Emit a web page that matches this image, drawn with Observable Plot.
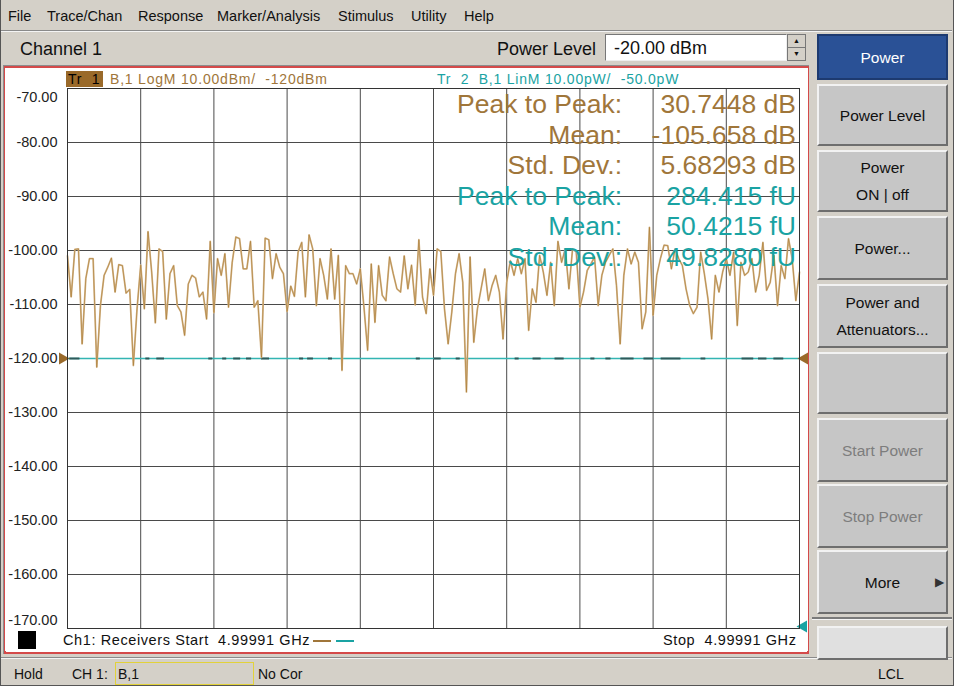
<!DOCTYPE html>
<html>
<head>
<meta charset="utf-8">
<script src="https://cdn.jsdelivr.net/npm/d3@7"></script>
<script src="https://cdn.jsdelivr.net/npm/@observablehq/plot@0.6"></script>
<style>
  html, body { margin: 0; padding: 0; }
  body { width: 954px; height: 686px; position: relative; overflow: hidden; background: #d4d0c8; font-family: "Liberation Sans", Arial, sans-serif; color: #111; }
  .abs { position: absolute; white-space: nowrap; }
  .menu { top: 8px; font-size: 14.5px; }
  .btn { position: absolute; left: 817px; width: 127px; background: #c6c6c6; border-top: 2px solid #f2f2f2; border-left: 2px solid #f2f2f2; border-bottom: 2px solid #6e6e6e; border-right: 2px solid #6e6e6e; font-size: 15.5px; text-align: center; display: flex; flex-direction: column; justify-content: center; line-height: 27px; }
  .dis { color: #7d7d7d; }
  .stat { position: absolute; font-size: 26.5px; line-height: 30.6px; text-align: right; white-space: nowrap; }
  .hdr { font-size: 14px; letter-spacing: 0.8px; }
  .ftr { font-size: 14.5px; letter-spacing: 0.6px; }
</style>
</head>
<body>
<!-- window frame -->
<div class="abs" style="left:0;top:0;width:952px;height:685px;border-left:1px solid #555;border-right:1px solid #555;border-bottom:1px solid #555;"></div>
<!-- menu bar -->
<div class="abs menu" style="left:8px">File</div>
<div class="abs menu" style="left:47px">Trace/Chan</div>
<div class="abs menu" style="left:138px">Response</div>
<div class="abs menu" style="left:217px">Marker/Analysis</div>
<div class="abs menu" style="left:338px">Stimulus</div>
<div class="abs menu" style="left:411px">Utility</div>
<div class="abs menu" style="left:464px">Help</div>
<div class="abs" style="left:1px;top:30px;width:951px;height:1px;background:#8a8a8a"></div>
<div class="abs" style="left:1px;top:31px;width:951px;height:1px;background:#f4f4f4"></div>

<!-- channel row -->
<div class="abs" style="left:20px;top:39px;font-size:18px">Channel 1</div>
<div class="abs" style="left:497px;top:39px;font-size:18px">Power Level</div>
<div class="abs" style="left:605px;top:34px;width:180px;height:25px;background:#fff;border-top:1px solid #777;border-left:1px solid #777;border-bottom:1px solid #eee;border-right:1px solid #eee;"></div>
<div class="abs" style="left:614px;top:38px;font-size:18px">-20.00 dBm</div>
<div class="abs" style="left:787px;top:34px;width:17px;height:12px;background:#d4d0c8;border:1px solid #777;font-size:7px;text-align:center;line-height:12px">&#9650;</div>
<div class="abs" style="left:787px;top:47px;width:17px;height:12px;background:#d4d0c8;border:1px solid #777;font-size:7px;text-align:center;line-height:12px">&#9660;</div>

<!-- chart window (red border) -->
<div class="abs" style="left:3px;top:65px;width:804px;height:587px;border:1px solid #8c8c8c;"></div>
<div class="abs" style="left:4px;top:66px;width:801px;height:584px;border:2px solid #d44a4a;background:#fff"></div>
<div id="plot" class="abs" style="left:5px;top:68px"></div>

<!-- trace headers -->
<div class="abs" style="left:66px;top:71px;width:37px;height:16px;background:#9a6a2a"></div>
<div class="abs hdr" style="left:68px;top:71px;color:#000">Tr&nbsp;&nbsp;1</div>
<div class="abs hdr" style="left:110px;top:71px;color:#a0763a">B,1 LogM 10.00dBm/&nbsp;&nbsp;-120dBm</div>
<div class="abs hdr" style="left:437px;top:71px;color:#1aa3a3">Tr&nbsp;&nbsp;2&nbsp;&nbsp;B,1 LinM 10.00pW/&nbsp;&nbsp;-50.0pW</div>

<!-- statistics -->
<div id="statLabels" class="stat" style="right:332px;top:89px"></div>
<div id="statValues" class="stat" style="right:158px;top:89px"></div>

<!-- footer inside chart window -->
<div class="abs" style="left:18px;top:631px;width:18px;height:18px;background:#000"></div>
<div class="abs ftr" style="left:63px;top:632px">Ch1: Receivers Start&nbsp;&nbsp;4.99991 GHz</div>
<div class="abs" style="left:313px;top:640px;width:18px;height:2px;background:#a0763a"></div>
<div class="abs" style="left:336px;top:640px;width:18px;height:2px;background:#1aa3a3"></div>
<div class="abs ftr" style="left:663px;top:632px">Stop&nbsp;&nbsp;4.99991 GHz</div>

<!-- status bar -->
<div class="abs" style="left:1px;top:657px;width:951px;height:1px;background:#8a8a8a"></div>
<div class="abs" style="left:1px;top:658px;width:951px;height:1px;background:#f4f4f4"></div>
<div class="abs" style="left:14px;top:666px;font-size:14px">Hold</div>
<div class="abs" style="left:72px;top:666px;font-size:14px">CH 1:</div>
<div class="abs" style="left:115px;top:662px;width:137px;height:21px;border:1px solid #e2d23a"></div>
<div class="abs" style="left:118px;top:666px;font-size:14px">B,1</div>
<div class="abs" style="left:258px;top:666px;font-size:14px">No Cor</div>
<div class="abs" style="left:878px;top:666px;font-size:14px">LCL</div>

<!-- softkeys -->
<div class="btn" style="top:34px;height:42px;background:#2a5196;color:#fff;border-color:#1d3a70">Power</div>
<div class="btn" style="top:84px;height:58px">Power Level</div>
<div class="btn" style="top:150px;height:58px"><span>Power</span><span>ON | off</span></div>
<div class="btn" style="top:216px;height:60px">Power...</div>
<div class="btn" style="top:284px;height:60px"><span>Power and</span><span>Attenuators...</span></div>
<div class="btn" style="top:352px;height:58px"></div>
<div class="btn dis" style="top:418px;height:60px">Start Power</div>
<div class="btn dis" style="top:484px;height:60px">Stop Power</div>
<div class="btn" style="top:550px;height:60px">More<span style="position:absolute;right:2px;top:17px;font-size:12px;color:#333">&#9654;</span></div>
<div class="abs" style="left:812px;top:617px;width:140px;height:2px;background:#7a7a7a"></div>
<div class="abs" style="left:812px;top:619px;width:140px;height:1px;background:#f4f4f4"></div>
<div class="btn" style="top:626px;height:30px;background:#e0e0e0"></div>

<script>
// ---- Data ----
// Trace 1: B,1 LogM (dBm), 201-point CW sweep at 4.99991 GHz
const trace1 = [
  -101.0, -108.6, -99.8, -99.7, -117.3, -105.2, -101.5, -101.5, -121.6, -110.2,
  -104.6, -103.1, -101.4, -107.7, -102.6, -102.8, -107.9, -107.2, -121.3, -110.8,
  -102.7, -110.8, -96.5, -104.0, -113.4, -99.7, -100.2, -112.7, -104.3, -102.8,
  -110.2, -111.4, -115.7, -106.2, -104.6, -105.1, -108.6, -107.7, -112.7, -98.3,
  -111.5, -101.5, -104.6, -100.6, -110.5, -102.2, -97.5, -97.8, -103.4, -103.4,
  -98.3, -110.5, -109.3, -119.8, -97.7, -98.0, -105.2, -100.6, -103.1, -104.3,
  -111.3, -106.6, -108.5, -100.3, -98.5, -108.6, -97.1, -99.7, -110.2, -101.5,
  -104.6, -109.0, -99.7, -109.0, -100.9, -122.2, -102.8, -104.3, -104.3, -106.2,
  -103.4, -110.5, -118.5, -102.5, -113.3, -102.8, -108.3, -109.3, -101.2, -104.3,
  -107.1, -107.7, -101.0, -107.1, -102.7, -110.1, -98.0, -108.6, -111.7, -103.4,
  -108.3, -99.7, -100.2, -110.8, -117.3, -111.4, -104.3, -100.6, -105.9, -126.2,
  -101.2, -117.0, -110.8, -107.1, -103.4, -109.3, -106.5, -104.6, -107.7, -116.4,
  -105.9, -101.9, -104.6, -101.5, -104.3, -101.5, -114.8, -107.1, -109.6, -100.9,
  -104.0, -108.3, -102.2, -110.2, -98.3, -102.2, -99.7, -107.1, -99.7, -100.3,
  -110.5, -107.7, -103.7, -102.5, -101.2, -110.2, -104.6, -102.2, -100.9, -99.7,
  -106.5, -117.3, -104.6, -99.7, -102.5, -100.3, -102.2, -114.5, -111.4, -95.7,
  -112.0, -104.6, -101.5, -99.0, -99.1, -103.4, -99.7, -101.5, -102.8, -107.1,
  -110.2, -111.7, -110.5, -100.3, -104.3, -109.0, -116.4, -104.6, -107.7, -104.0,
  -101.5, -104.6, -100.3, -113.9, -102.2, -104.6, -104.0, -101.5, -107.7, -104.6,
  -98.5, -107.4, -105.9, -100.9, -110.2, -102.8, -105.2, -97.8, -101.5, -109.3,
  -104.0
];
// Trace 2: B,1 LinM (pW) -- essentially 0 pW across the sweep
const trace2 = [{i: 0, pw: 0}, {i: 200, pw: 0}];
const trace2Ref = -50;      // pW at the bottom graticule line
const trace2PerDiv = 10;    // pW per division
// Dark segments drawn along the trace-2 line (point-index ranges)
const trace2Dashes = [
  [0.6, 3.4], [21.4, 22.5], [24.4, 26.5], [38.6, 39.7], [42.4, 43.5], [45.4, 47.3],
  [48.9, 50.3], [53.0, 55.2], [63.4, 64.5], [65.6, 67.2], [71.3, 72.4], [95.3, 96.4],
  [100.2, 102.1], [106.2, 107.3], [122.3, 123.4], [127.2, 129.4], [133.2, 135.7],
  [143.0, 144.1], [147.1, 148.5], [151.2, 154.8], [157.5, 160.2], [162.2, 167.6],
  [173.1, 174.4], [184.3, 187.5], [188.8, 191.1], [193.0, 195.7]
];
// Axis
const yTicks = [-70, -80, -90, -100, -110, -120, -130, -140, -150, -160, -170];
const xTicks = [0, 20, 40, 60, 80, 100, 120, 140, 160, 180, 200];
const trace1Ref = -120;
// Statistics
const statLabels = ["Peak to Peak:", "Mean:", "Std. Dev.:", "Peak to Peak:", "Mean:", "Std. Dev.:"];
const statValues = ["30.7448 dB", "-105.658 dB", "5.68293 dB", "284.415 fU", "50.4215 fU", "49.8280 fU"];
const statTrace  = [1, 1, 1, 2, 2, 2];

const C1 = "#a0763a", C2 = "#1aa3a3";

// ---- statistics text ----
document.getElementById("statLabels").innerHTML =
  statLabels.map((s, k) => `<div style="color:${statTrace[k] === 1 ? C1 : C2}">${s}</div>`).join("");
document.getElementById("statValues").innerHTML =
  statValues.map((s, k) => `<div style="color:${statTrace[k] === 1 ? C1 : C2}">${s}</div>`).join("");

// ---- chart ----
const t1 = trace1.map((v, i) => ({i, v}));
const toDisp = pw => -170 + (pw - trace2Ref) / trace2PerDiv * 10;
const t2 = trace2.map(d => ({i: d.i, v: toDisp(d.pw)}));
const dashData = trace2Dashes.map(([a, b]) => ({a, b, v: toDisp(0)}));
const fmt = d => d.toFixed(2);

const chart = Plot.plot({
  width: 803,
  height: 583,
  marginLeft: 62,
  marginRight: 9,
  marginTop: 20,
  marginBottom: 23,
  style: {background: "#fff", fontFamily: "Liberation Sans, Arial, sans-serif", fontSize: "14.5px", color: "#222", overflow: "visible"},
  x: {domain: [0, 200], axis: null},
  y: {domain: [-170, -70], axis: null},
  marks: [
    Plot.ruleX(xTicks, {stroke: "#4a4a4a", strokeWidth: 1}),
    Plot.ruleY(yTicks, {stroke: "#4a4a4a", strokeWidth: 1}),
    Plot.line(t2, {x: "i", y: "v", stroke: "#33b5b2", strokeWidth: 1.3}),
    Plot.ruleY(dashData, {y: "v", x1: "a", x2: "b", stroke: "#2f5a5a", strokeWidth: 2}),
    Plot.line(t1, {x: "i", y: "v", stroke: "#d6b88e", strokeWidth: 1.8}),
    Plot.line(t1, {x: "i", y: "v", stroke: "#a8782f", strokeWidth: 0.6}),
    Plot.text(yTicks.slice(1, -1), {y: d => d, frameAnchor: "left", dx: -10, textAnchor: "end", text: fmt, fill: "#222"}),
    Plot.text([yTicks[0]], {y: d => d, frameAnchor: "left", dx: -10, dy: 9, textAnchor: "end", text: fmt, fill: "#222"}),
    Plot.text([yTicks[yTicks.length - 1]], {y: d => d, frameAnchor: "left", dx: -10, dy: -8, textAnchor: "end", text: fmt, fill: "#222"}),
    Plot.dot([trace1Ref], {x: 0, y: d => d, symbol: "triangle", rotate: 90, r: 4.5, fill: "#9a6a2a", stroke: "none", dx: -5}),
    Plot.dot([trace1Ref], {x: 200, y: d => d, symbol: "triangle", rotate: -90, r: 4.5, fill: "#9a6a2a", stroke: "none", dx: 5}),
    Plot.dot([toDisp(trace2Ref)], {x: 200, y: d => d, symbol: "triangle", rotate: -90, r: 4.5, fill: C2, stroke: "none", dx: 4, dy: -2}),
    Plot.frame({stroke: "#333"})
  ]
});
document.getElementById("plot").appendChild(chart);
</script>
</body>
</html>
